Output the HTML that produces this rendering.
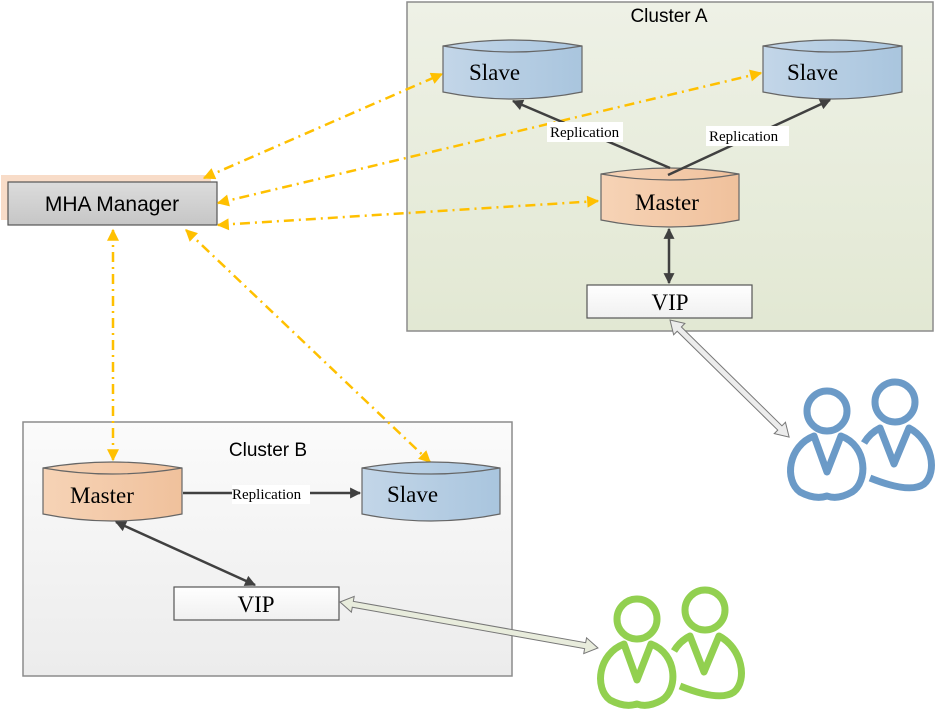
<!DOCTYPE html>
<html><head><meta charset="utf-8"><style>
html,body{margin:0;padding:0;background:#fff;}
svg{display:block;}
.s{font-family:"Liberation Serif",serif;}
.a{font-family:"Liberation Sans","DejaVu Sans",sans-serif;}
</style></head><body>
<svg width="940" height="710" viewBox="0 0 940 710" xmlns="http://www.w3.org/2000/svg">
<defs>
<linearGradient id="ga" x1="0" y1="0" x2="0" y2="1"><stop offset="0" stop-color="#eef1e6"/><stop offset="1" stop-color="#e2e8d3"/></linearGradient>
<linearGradient id="gb" x1="0" y1="0" x2="0" y2="1"><stop offset="0" stop-color="#fbfbfb"/><stop offset="1" stop-color="#ececec"/></linearGradient>
<linearGradient id="gs" x1="0" y1="0" x2="1" y2="0"><stop offset="0" stop-color="#c3d6e8"/><stop offset="1" stop-color="#a9c5de"/></linearGradient>
<linearGradient id="gm" x1="0" y1="0" x2="1" y2="0"><stop offset="0" stop-color="#f6d3b6"/><stop offset="1" stop-color="#f0c19c"/></linearGradient>
<linearGradient id="gv" x1="0" y1="0" x2="0" y2="1"><stop offset="0" stop-color="#ffffff"/><stop offset="1" stop-color="#f0f0f0"/></linearGradient>
<linearGradient id="gh" x1="0" y1="0" x2="0" y2="1"><stop offset="0" stop-color="#dcdcdc"/><stop offset="1" stop-color="#c6c6c6"/></linearGradient>
<marker id="oa" viewBox="0 0 10 10" refX="9" refY="5" markerWidth="15" markerHeight="12" orient="auto-start-reverse" markerUnits="userSpaceOnUse"><path d="M0,0 L10,5 L0,10 Z" fill="#ffc000"/></marker>
<marker id="ka" viewBox="0 0 10 10" refX="9" refY="5" markerWidth="13" markerHeight="11" orient="auto-start-reverse" markerUnits="userSpaceOnUse"><path d="M0,0 L10,5 L0,10 Z" fill="#404040"/></marker>
</defs>

<rect x="407" y="2" width="526" height="329" fill="url(#ga)" stroke="#8c8c8c" stroke-width="1.5"/>
<text x="669" y="22" class="a" font-size="19" text-anchor="middle">Cluster A</text>
<rect x="23" y="422" width="489" height="254" fill="url(#gb)" stroke="#8c8c8c" stroke-width="1.5"/>
<text x="268" y="456" class="a" font-size="19" text-anchor="middle">Cluster B</text>

<rect x="1" y="175" width="210" height="45" fill="#f8dcc8"/>
<rect x="8" y="182" width="209" height="43" fill="url(#gh)" stroke="#555" stroke-width="1.2"/>
<text x="112" y="211" class="a" font-size="21" text-anchor="middle">MHA Manager</text>

<g stroke="#ffc000" stroke-width="2.5" fill="none" stroke-dasharray="10,5,2,5" marker-start="url(#oa)" marker-end="url(#oa)">
<path d="M204,178 L442,74"/>
<path d="M218,203 L761,73"/>
<path d="M218,225 L598,201"/>
<path d="M113,230 L113,460"/>
<path d="M186,230 L430,462"/>
</g>

<g stroke="#666" stroke-width="1.2">
<path d="M443,46 Q512,34 582,46 L582,92 Q512,106 443,92 Z" fill="url(#gs)"/>
<path d="M443,46 Q512,58 582,46" fill="none"/>
<path d="M763,46 Q832,34 902,46 L902,92 Q832,106 763,92 Z" fill="url(#gs)"/>
<path d="M763,46 Q832,58 902,46" fill="none"/>
<path d="M601,174 Q670,162 739,174 L739,220 Q670,234 601,220 Z" fill="url(#gm)"/>
<path d="M601,174 Q670,186 739,174" fill="none"/>
<path d="M43,468 Q112,456 182,468 L182,514 Q112,528 43,514 Z" fill="url(#gm)"/>
<path d="M43,468 Q112,480 182,468" fill="none"/>
<path d="M362,468 Q431,456 500,468 L500,514 Q431,528 362,514 Z" fill="url(#gs)"/>
<path d="M362,468 Q431,480 500,468" fill="none"/>
</g>
<g class="s" font-size="23">
<text x="469" y="80">Slave</text>
<text x="787" y="80">Slave</text>
<text x="635" y="210">Master</text>
<text x="70" y="503">Master</text>
<text x="387" y="502">Slave</text>
</g>

<rect x="587" y="285" width="165" height="33" fill="url(#gv)" stroke="#555" stroke-width="1.2"/>
<text x="670" y="310" class="s" font-size="23" text-anchor="middle">VIP</text>
<rect x="174" y="587" width="165" height="33" fill="url(#gv)" stroke="#555" stroke-width="1.2"/>
<text x="256" y="612" class="s" font-size="23" text-anchor="middle">VIP</text>

<g stroke="#404040" stroke-width="2.5" fill="none">
<path d="M670,168 L513,101" marker-end="url(#ka)"/>
<path d="M668,175 L830,100" marker-end="url(#ka)"/>
<path d="M669,229 L669,283" marker-start="url(#ka)" marker-end="url(#ka)"/>
<path d="M183,493 L360,493" marker-end="url(#ka)"/>
<path d="M116,522 L255,585" marker-start="url(#ka)" marker-end="url(#ka)"/>
</g>
<g class="s" font-size="15">
<rect x="547" y="122" width="76" height="20" fill="#fff"/>
<text x="550" y="137">Replication</text>
<rect x="706" y="126" width="83" height="20" fill="#fff"/>
<text x="709" y="141">Replication</text>
<rect x="232" y="485" width="78" height="19" fill="#fff"/>
<text x="232" y="499">Replication</text>
</g>

<g stroke="#777" stroke-width="1">
<polygon transform="translate(670,320) rotate(44.5)" points="0,0 13,-8 13,-3 154,-3 154,-8 167,0 154,8 154,3 13,3 13,8" fill="#ececec"/>
<polygon transform="translate(340,602) rotate(10.1)" points="0,0 13,-8 13,-3 249,-3 249,-8 262,0 249,8 249,3 13,3 13,8" fill="#e8ecdc"/>
</g>

<g fill="none" stroke="#6b9ac7" stroke-width="7" stroke-linejoin="round">
<circle cx="827" cy="411" r="20"/>
<circle cx="895" cy="402" r="20"/>
<path d="M814,436 L827,472 L841,436 C868,446 868,482 852,492 Q838,500 827,496 Q815,500 800,492 C784,480 788,446 814,436 Z"/>
<path d="M864,443 Q870,433 880,428 L894,464 L909,428 C932,440 938,472 924,484 Q910,494 870,478"/>
</g>
<g transform="translate(-190,208)" fill="none" stroke="#92d050" stroke-width="7" stroke-linejoin="round">
<circle cx="827" cy="411" r="20"/>
<circle cx="895" cy="402" r="20"/>
<path d="M814,436 L827,472 L841,436 C868,446 868,482 852,492 Q838,500 827,496 Q815,500 800,492 C784,480 788,446 814,436 Z"/>
<path d="M864,443 Q870,433 880,428 L894,464 L909,428 C932,440 938,472 924,484 Q910,494 870,478"/>
</g>
</svg>
</body></html>
